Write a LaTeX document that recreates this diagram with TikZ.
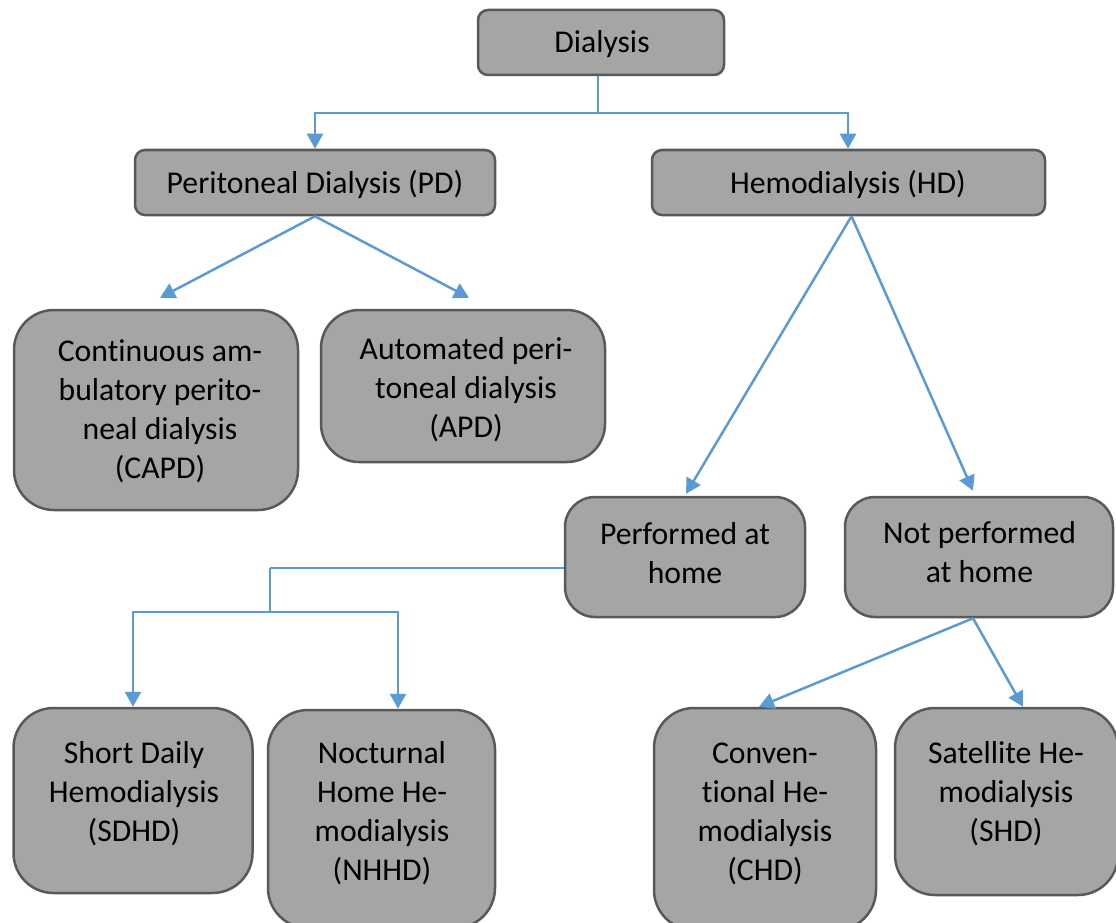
\documentclass[tikz,border=0pt]{standalone}
\usepackage{fontspec}
\setmainfont{Carlito}[Ligatures=NoCommon]
\usetikzlibrary{arrows.meta,calc}
\definecolor{boxfill}{HTML}{A5A5A5}
\definecolor{boxline}{HTML}{595959}
\definecolor{conn}{HTML}{5B9BD5}
\newcommand{\mlines}[1]{\begin{tabular}[t]{@{}c@{}}#1\end{tabular}}
\begin{document}
\begin{tikzpicture}[x=1pt,y=1pt,
  box/.style={draw=boxline, fill=boxfill, line width=2.5pt, inner sep=0pt},
  txt/.style={anchor=base, inner sep=0pt, text=black, font=\fontsize{31.7}{39}\selectfont},
  arr/.style={draw=conn, line width=2.5pt, -{Triangle[width=16pt,length=15pt]}},
  thinconn/.style={draw=conn, line width=1.3pt},
 ]
\useasboundingbox (0,0) rectangle (1116,-923);
\fill[white] (0,0) rectangle (1116,-923);

% boxes
\node[box, rounded corners=10pt, minimum width=246pt, minimum height=65pt] (dia) at (601,-42.5) {};
\node[box, rounded corners=10pt, minimum width=360pt, minimum height=65pt] (pd) at (315,-182.5) {};
\node[box, rounded corners=10pt, minimum width=393pt, minimum height=65pt] (hd) at (848.5,-182.5) {};
\node[box, rounded corners=40pt, minimum width=284pt, minimum height=200pt] (capd) at (156,-410) {};
\node[box, rounded corners=38pt, minimum width=284pt, minimum height=152pt] (apd) at (463,-386) {};
\node[box, rounded corners=30pt, minimum width=240pt, minimum height=120pt] (perf) at (685,-557) {};
\node[box, rounded corners=30pt, minimum width=268pt, minimum height=120pt] (notp) at (979,-557) {};
\node[box, rounded corners=40pt, minimum width=239pt, minimum height=185pt] (sdhd) at (133,-800.5) {};
\node[box, rounded corners=40pt, minimum width=227pt, minimum height=218pt] (nhhd) at (381.5,-819) {};
\node[box, rounded corners=40pt, minimum width=222pt, minimum height=222pt] (chd) at (765,-819) {};
\node[box, rounded corners=40pt, minimum width=223pt, minimum height=187pt] (shd) at (1006.5,-801.5) {};

% texts
\node[txt] (diat) at (602,-53) {Dialysis};
\node[txt] (pdt) at (315,-193) {Peritoneal Dialysis (PD)};
\node[txt] (hdt) at (848,-193) {Hemodialysis (HD)};
\node[txt] (capdt) at (160,-361) {\mlines{Continuous am-\\bulatory perito-\\neal dialysis\\(CAPD)}};
\node[txt] (apdt) at (466,-359) {\mlines{Automated peri-\\toneal dialysis\\(APD)}};
\node[txt] (perft) at (685,-544) {\mlines{Performed at\\home}};
\node[txt] (notpt) at (979.5,-543) {\mlines{Not performed\\at home}};
\node[txt] (sdhdt) at (134,-763) {\mlines{Short Daily\\Hemodialysis\\(SDHD)}};
\node[txt] (nhhdt) at (382,-763) {\mlines{Nocturnal\\Home He-\\modialysis\\(NHHD)}};
\node[txt] (chdt) at (765,-763) {\mlines{Conven-\\tional He-\\modialysis\\(CHD)}};
\node[txt] (shdt) at (1006,-763) {\mlines{Satellite He-\\modialysis\\(SHD)}};

% connectors
\draw[arr] ([xshift=-3pt]dia.south) -- ++(0,-37) -| (pd.north);
\draw[arr] ([xshift=-3pt]dia.south) -- ++(0,-37) -| ([xshift=-0.5pt]hd.north);
\draw[arr] (pd.south) -- ($(capd.north)+(4,11)$);
\draw[arr] (pd.south) -- ($(apd.north)+(6,11)$);
\draw[arr] ([xshift=3pt]hd.south) -- ($(perf.north)+(1,2)$);
\draw[arr] ([xshift=3pt]hd.south) -- ($(notp.north)+(-6,5)$);
\draw[thinconn] ($(perf.west)+(0,-11)$) -- ++(-294,0) coordinate (pj);
\draw[arr] (pj) -- ++(0,-44) -| (sdhd.north);
\draw[arr] (pj) -- ++(0,-44) -| ($(nhhd.north)+(16.5,0)$);
\draw[arr] ($(notp.south)+(-6,0)$) -- ($(chd.north)+(-6,0)$);
\draw[arr] ($(notp.south)+(-6,0)$) -- ($(shd.north)+(16.5,0)$);
\end{tikzpicture}
\end{document}
